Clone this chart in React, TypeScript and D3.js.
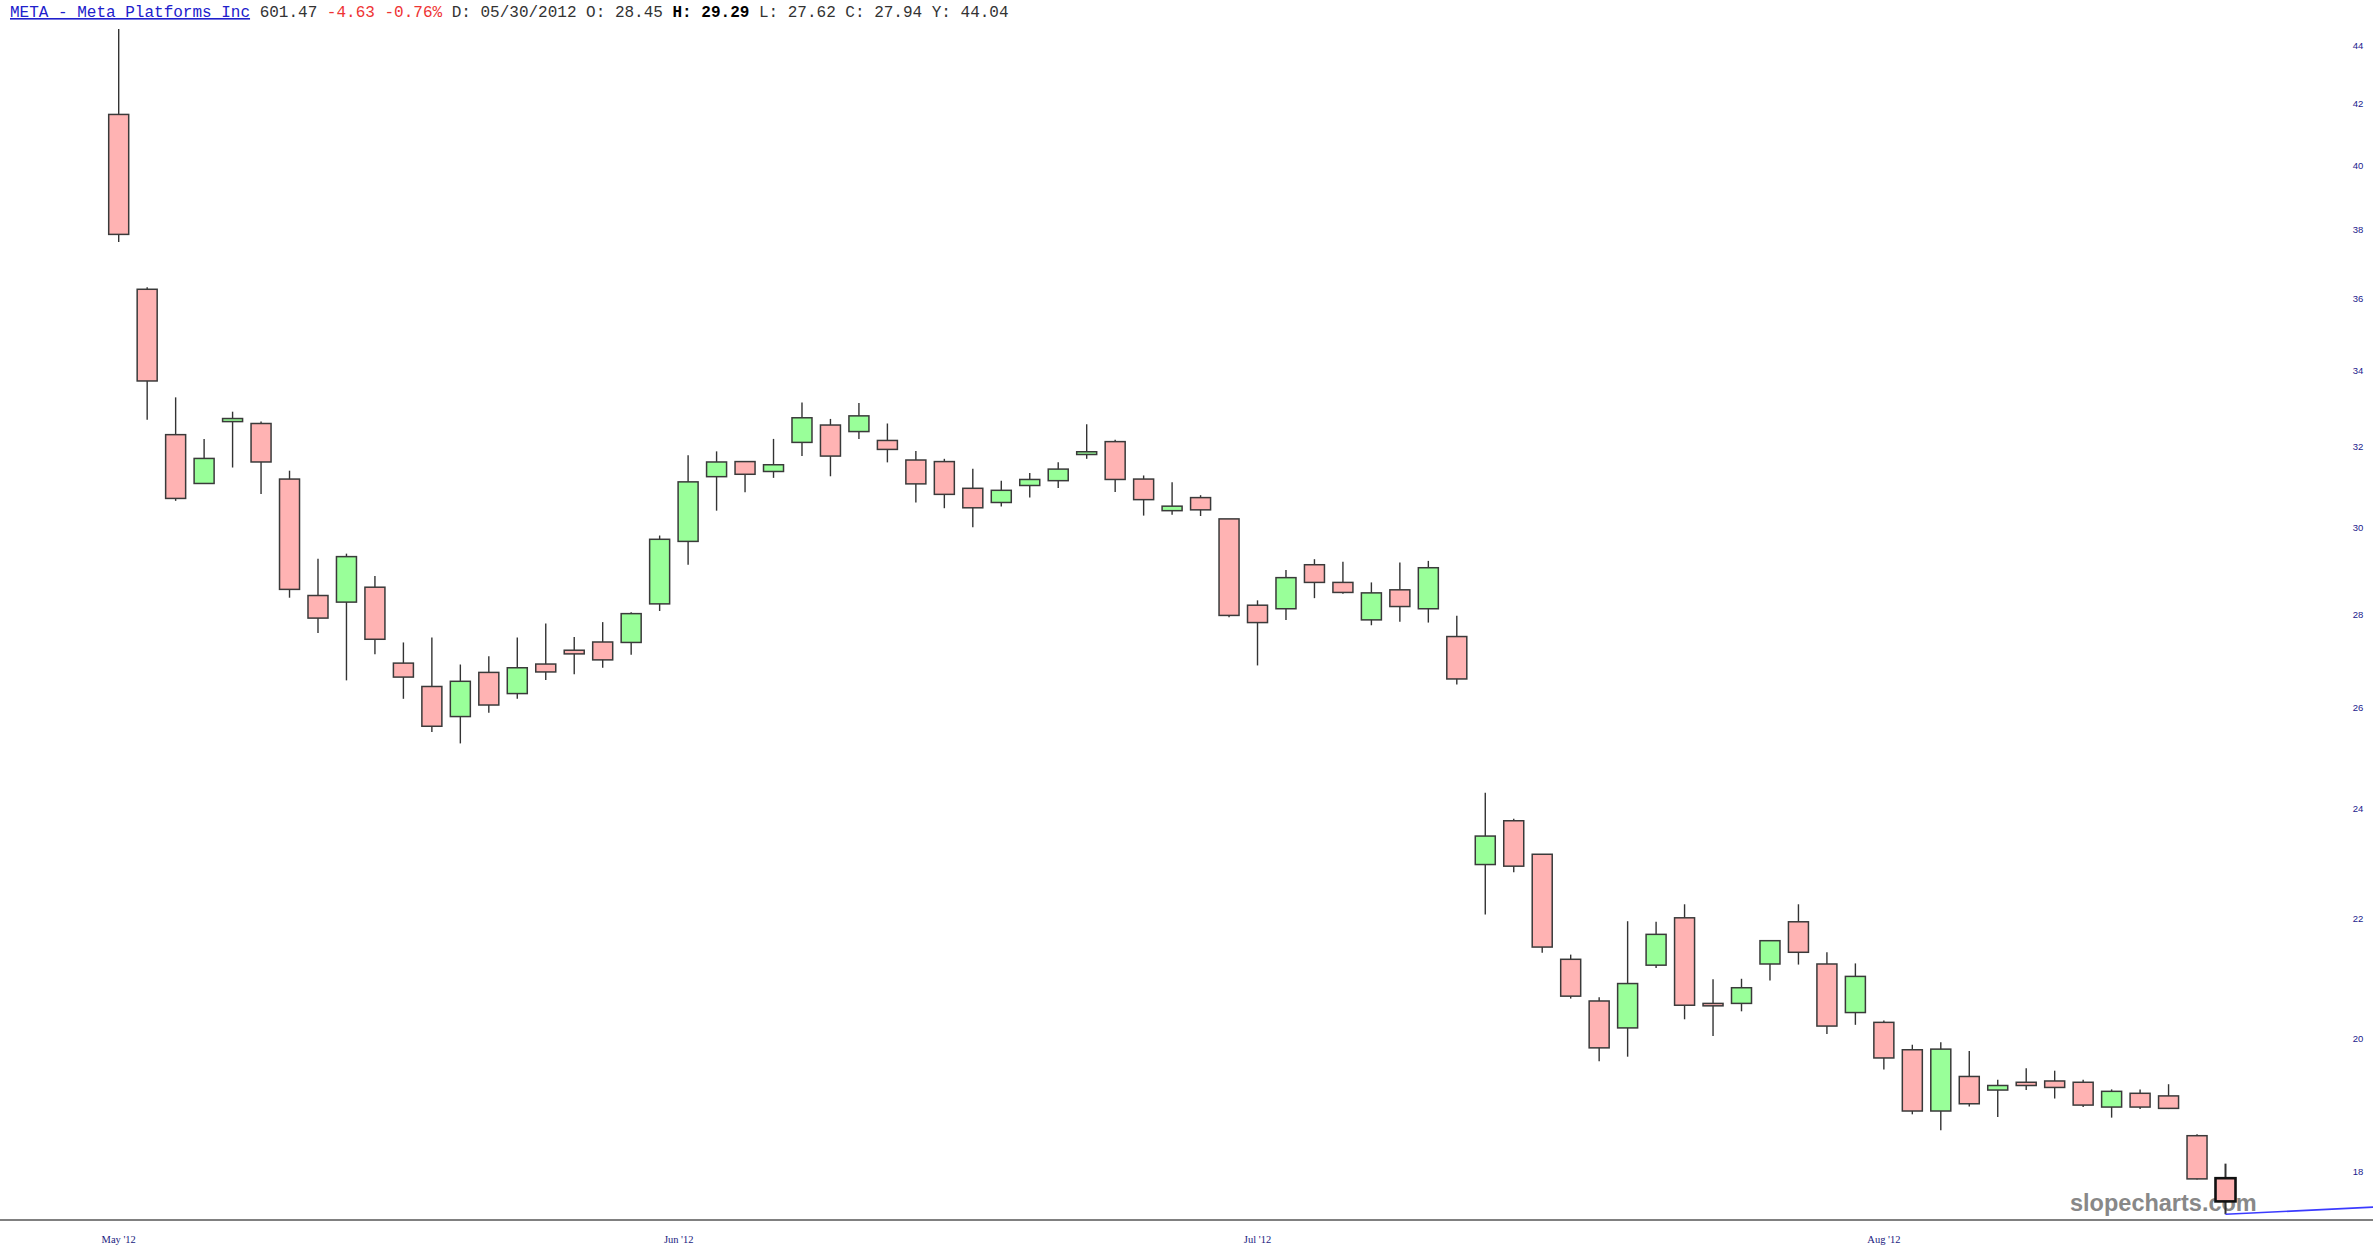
import React, { useEffect, useRef } from 'react'
import * as d3 from 'd3'

// META daily candles, May 18 2012 -> Sep 4 2012
const dates = [
    "2012-05-18", "2012-05-21", "2012-05-22", "2012-05-23", "2012-05-24", "2012-05-25", "2012-05-29", "2012-05-30", "2012-05-31",
    "2012-06-01", "2012-06-04", "2012-06-05", "2012-06-06", "2012-06-07", "2012-06-08", "2012-06-11", "2012-06-12", "2012-06-13",
    "2012-06-14", "2012-06-15", "2012-06-18", "2012-06-19", "2012-06-20", "2012-06-21", "2012-06-22", "2012-06-25", "2012-06-26",
    "2012-06-27", "2012-06-28", "2012-06-29", "2012-07-02", "2012-07-03", "2012-07-05", "2012-07-06", "2012-07-09", "2012-07-10",
    "2012-07-11", "2012-07-12", "2012-07-13", "2012-07-16", "2012-07-17", "2012-07-18", "2012-07-19", "2012-07-20", "2012-07-23",
    "2012-07-24", "2012-07-25", "2012-07-26", "2012-07-27", "2012-07-30", "2012-07-31", "2012-08-01", "2012-08-02", "2012-08-03",
    "2012-08-06", "2012-08-07", "2012-08-08", "2012-08-09", "2012-08-10", "2012-08-13", "2012-08-14", "2012-08-15", "2012-08-16",
    "2012-08-17", "2012-08-20", "2012-08-21", "2012-08-22", "2012-08-23", "2012-08-24", "2012-08-27", "2012-08-28", "2012-08-29",
    "2012-08-30", "2012-08-31", "2012-09-04",
]
const opens = [
    42.05, 36.60, 32.61, 31.37, 32.95, 32.90, 31.48, 28.70, 28.55, 28.89, 27.20, 26.70, 26.07, 27.00, 26.55, 27.18, 27.48, 27.66,
    27.65, 28.51, 29.96, 31.54, 31.92, 31.67, 32.41, 32.86, 32.69, 32.46, 31.96, 31.92, 31.25, 30.90, 31.32, 31.44, 32.10, 32.43,
    31.48, 30.70, 31.02, 30.50, 28.48, 28.40, 29.41, 29.00, 28.15, 28.83, 28.40, 27.78, 23.18, 24.00, 23.37, 21.50, 20.80, 20.36,
    21.40, 22.22, 20.76, 20.76, 21.42, 22.15, 21.42, 20.61, 20.45, 20.01, 19.06, 19.59, 19.38, 19.50, 19.52, 19.50, 19.12, 19.33,
    19.29, 18.69, 18.07,
]
const highs = [
    45.00, 36.66, 33.59, 32.50, 33.21, 32.95, 31.69, 29.55, 29.67, 29.15, 27.65, 27.76, 27.17, 27.35, 27.76, 28.07, 27.77, 28.10,
    28.32, 30.10, 32.08, 32.18, 31.93, 32.50, 33.45, 33.02, 33.44, 32.90, 32.19, 31.99, 31.74, 31.44, 31.63, 31.90, 32.88, 32.48,
    31.57, 31.40, 31.08, 30.50, 28.59, 29.29, 29.54, 29.48, 29.00, 29.46, 29.50, 28.24, 24.54, 24.04, 23.37, 21.58, 20.86, 22.16,
    22.15, 22.46, 21.16, 21.17, 21.83, 22.46, 21.62, 21.43, 20.48, 20.09, 20.13, 19.99, 19.54, 19.72, 19.68, 19.54, 19.39, 19.39,
    19.47, 18.71, 18.28,
]
const lows = [
    38.00, 33.00, 30.94, 31.36, 31.77, 31.11, 28.65, 27.86, 26.83, 27.39, 26.44, 25.75, 25.52, 26.15, 26.44, 26.84, 26.96, 27.10,
    27.38, 28.35, 29.41, 30.70, 31.15, 31.51, 32.06, 31.55, 32.50, 31.90, 30.90, 30.76, 30.30, 30.80, 31.02, 31.26, 31.99, 31.16,
    30.58, 30.60, 30.57, 28.21, 27.15, 28.15, 28.64, 28.74, 28.03, 28.11, 28.09, 26.74, 22.28, 23.04, 21.61, 20.84, 19.83, 19.90,
    21.35, 20.50, 20.23, 20.63, 21.14, 21.41, 20.26, 20.41, 19.70, 19.01, 18.77, 19.13, 18.97, 19.38, 19.25, 19.12, 18.96, 19.09,
    19.09, 18.05, 17.56,
]
const closes = [
    38.23, 34.03, 31.00, 32.00, 33.03, 31.91, 28.84, 28.19, 29.60, 27.72, 26.90, 25.87, 26.81, 26.31, 27.10, 27.01, 27.40, 27.27,
    28.29, 30.01, 31.41, 31.91, 31.60, 31.84, 33.05, 32.06, 33.10, 32.23, 31.36, 31.10, 30.77, 31.20, 31.47, 31.73, 32.17, 31.47,
    30.97, 30.81, 30.72, 28.25, 28.09, 29.11, 29.00, 28.77, 28.76, 28.45, 29.34, 26.86, 23.71, 23.15, 21.71, 20.88, 20.04, 21.09,
    21.93, 20.73, 20.72, 21.02, 21.82, 21.62, 20.39, 21.21, 19.88, 19.06, 20.02, 19.17, 19.45, 19.45, 19.42, 19.15, 19.36, 19.12,
    19.10, 18.06, 17.74,
]

const yTicks = [18, 20, 22, 24, 26, 28, 30, 32, 34, 36, 38, 40, 42, 44]
const monthLabels = ["May '12", "Jun '12", "Jul '12", "Aug '12"]
const monthLabelBars = [0, 19.67, 40, 62]

// blue line off the last low, running to the right edge (bar index, price)
const trendBars = [74, 79.2]
const trendPrices = [17.56, 17.66]

const W = 2373
const H = 1260

export default function App() {
    const svgRef = useRef<SVGSVGElement>(null)

    useEffect(() => {
        if (!svgRef.current) return
        const svg = d3.select(svgRef.current)
        svg.selectAll("*").remove()

        const axisY = 1220

        const x = d3.scaleLinear().domain([0, dates.length - 1]).range([118.7, 2225.5])
        const y = d3.scaleLog().domain([17.48, 46.05]).range([axisY, 0])
        const bodyW = 20
        const last = dates.length - 1

        const candles = dates.map((d, i) => ({
            date: d, i, o: opens[i], h: highs[i], l: lows[i], c: closes[i],
        }))

        // watermark sits under the candles
        svg.append("text")
            .attr("x", 2070)
            .attr("y", 1211)
            .attr("font-family", "Liberation Sans, Arial, sans-serif")
            .attr("font-weight", "bold")
            .attr("font-size", "23.5px")
            .attr("fill", "#888888")
            .text("slopecharts.com")

        const g = svg.append("g")

        // Wicks
        g.selectAll(".wick")
            .data(candles)
            .enter().append("line")
            .attr("class", "wick")
            .attr("x1", d => x(d.i))
            .attr("x2", d => x(d.i))
            .attr("y1", d => y(d.h))
            .attr("y2", d => y(d.l))
            .attr("stroke", "#333")
            .attr("stroke-width", d => d.i === last ? 2 : 1.4)

        // Bodies
        g.selectAll(".body")
            .data(candles)
            .enter().append("rect")
            .attr("class", "body")
            .attr("x", d => x(d.i) - bodyW / 2)
            .attr("y", d => y(Math.max(d.o, d.c)))
            .attr("width", bodyW)
            .attr("height", d => Math.max(Math.abs(y(d.o) - y(d.c)), 1.5))
            .attr("fill", d => d.c >= d.o ? "#99ff99" : "#ffb3b3")
            .attr("stroke", d => d.i === last ? "#111" : "#3a3a3a")
            .attr("stroke-width", d => d.i === last ? 2.6 : 1.5)

        // trend line
        svg.append("path")
            .attr("d", d3.line<number>().x((b) => x(b)).y((_, k) => y(trendPrices[k]))(trendBars))
            .attr("fill", "none")
            .attr("stroke", "#3b3bff")
            .attr("stroke-width", 1.6)

        // bottom axis line
        svg.append("line")
            .attr("x1", 0).attr("x2", W)
            .attr("y1", axisY).attr("y2", axisY)
            .attr("stroke", "#808080")
            .attr("stroke-width", 2.2)

        // month labels
        svg.selectAll(".month")
            .data(monthLabels)
            .enter().append("text")
            .attr("class", "month")
            .attr("x", (_, k) => x(monthLabelBars[k]))
            .attr("y", 1243)
            .attr("text-anchor", "middle")
            .attr("font-family", "Liberation Serif, Times New Roman, serif")
            .attr("font-size", "10.5px")
            .attr("fill", "#1a1a80")
            .text(d => d)

        // price labels on the right
        svg.selectAll(".ytick")
            .data(yTicks)
            .enter().append("text")
            .attr("class", "ytick")
            .attr("x", 2358)
            .attr("y", d => y(d) - 12)
            .attr("dominant-baseline", "central")
            .attr("text-anchor", "middle")
            .attr("font-family", "Liberation Sans, Arial, sans-serif")
            .attr("font-size", "9.5px")
            .attr("fill", "#1a1a8c")
            .text(d => d)

        // header
        const header = svg.append("text")
            .attr("x", 10)
            .attr("y", 17)
            .attr("font-family", "Liberation Mono, Courier New, monospace")
            .attr("font-size", "16px")
            .attr("fill", "#333")
            .attr("xml:space", "preserve")
        header.append("tspan")
            .attr("fill", "#2020cc")
            .attr("text-decoration", "underline")
            .text("META - Meta Platforms Inc")
        header.append("tspan").text(" 601.47 ")
        header.append("tspan").attr("fill", "#ee3333").text("-4.63 -0.76%")
        header.append("tspan").text(" D: 05/30/2012 O: 28.45 ")
        header.append("tspan").attr("font-weight", "bold").attr("fill", "#000").text("H: 29.29")
        header.append("tspan").text(" L: 27.62 C: 27.94 Y: 44.04")
    }, [])

    return (
        <svg
            ref={svgRef}
            width={W}
            height={H}
            viewBox={`0 0 ${W} ${H}`}
            style={{ position: 'absolute', left: 0, top: 0, background: '#fff', display: 'block' }}
        />
    )
}
